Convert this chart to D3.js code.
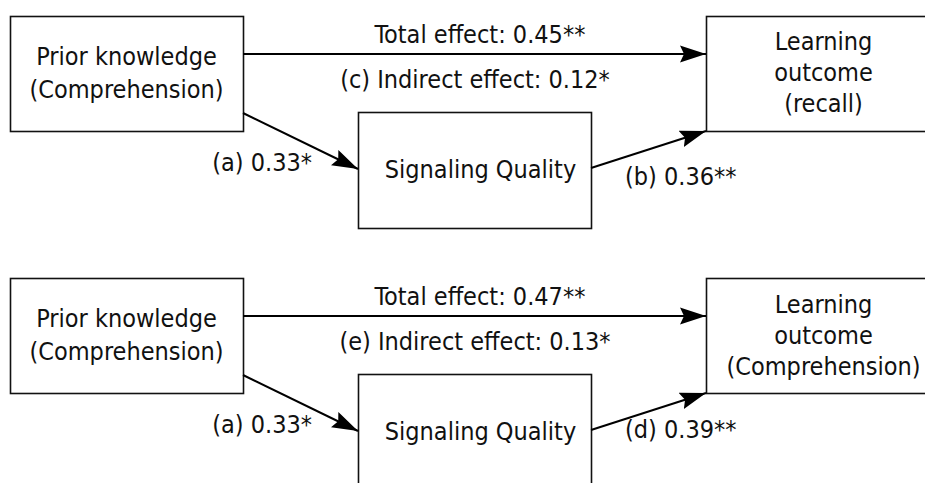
<!DOCTYPE html>
<html>
<head>
<meta charset="utf-8">
<script src="https://cdn.jsdelivr.net/npm/d3@7"></script>
<style>
  html, body { margin: 0; padding: 0; background: #fff; }
  svg text { font-family: "DejaVu Sans Condensed", "DejaVu Sans", sans-serif; font-stretch: condensed; font-size: 25px; fill: #111; }
</style>
</head>
<body>
<div id="chart"></div>
<script>
// data: one panel per learning outcome
const panels = ["recall", "comprehension"];
const predictorLines = ["Prior knowledge", "(Comprehension)"];
const mediatorLabel = "Signaling Quality";
const outcomeLines = [["Learning", "outcome", "(recall)"], ["Learning", "outcome", "(Comprehension)"]];
const pathALetter = ["a", "a"];
const pathAValue = ["0.33*", "0.33*"];
const pathBLetter = ["b", "d"];
const pathBValue = ["0.36**", "0.39**"];
const totalValue = ["0.45**", "0.47**"];
const indirectLetter = ["c", "e"];
const indirectValue = ["0.12*", "0.13*"];

const width = 925, height = 483;

const svg = d3.select("#chart").append("svg")
  .attr("width", width)
  .attr("height", height);

// arrow head
svg.append("defs").append("marker")
  .attr("id", "head")
  .attr("markerUnits", "userSpaceOnUse")
  .attr("viewBox", "0 0 26 18")
  .attr("markerWidth", 26)
  .attr("markerHeight", 18)
  .attr("refX", 26)
  .attr("refY", 9)
  .attr("orient", "auto")
  .append("path")
  .attr("d", "M0,0.5 L26,9 L0,17.5 L4,9 Z")
  .attr("fill", "#000");

// panel offsets
const panelY = d3.scalePoint().domain(panels).range([0, 262]);

// layout of boxes within a panel
const boxW = 233, boxH = 115;
const pred = {x: 10, y: 16};
const med = {x: 358, y: 112};
const out = {x: 706, y: 16};

panels.forEach((p, i) => {
  const g = svg.append("g").attr("transform", `translate(0,${panelY(p)})`);

  const boxes = [pred, med, out];
  g.selectAll("rect.box").data(boxes).enter()
    .append("rect")
    .attr("class", "box")
    .attr("x", d => d.x + 0.5)
    .attr("y", d => d.y + 0.5)
    .attr("width", boxW)
    .attr("height", d => d === med ? 116 : boxH)
    .attr("fill", "#fff")
    .attr("stroke", "#111")
    .attr("stroke-width", 1.6);

  // predictor text
  g.append("text")
    .attr("text-anchor", "middle")
    .selectAll("tspan").data(predictorLines).enter()
    .append("tspan")
    .attr("x", pred.x + boxW / 2)
    .attr("y", (d, j) => 65 + j * 33)
    .text(d => d);

  // mediator text
  g.append("text")
    .attr("text-anchor", "middle")
    .attr("x", med.x + boxW / 2 + 6)
    .attr("y", 178)
    .text(mediatorLabel);

  // outcome text
  const outBase = i === 0 ? 50 : 51;
  g.append("text")
    .attr("text-anchor", "middle")
    .selectAll("tspan").data(outcomeLines[i]).enter()
    .append("tspan")
    .attr("x", out.x + boxW / 2 + 1)
    .attr("y", (d, j) => outBase + j * 31)
    .text(d => d);

  // arrows
  const arrows = [
    [[pred.x + boxW, 54], [out.x, 54]],
    [[pred.x + boxW, 113], [med.x, 169]],
    [[med.x + boxW, 168], [out.x, out.y + boxH]]
  ];
  g.selectAll("path.arrow").data(arrows).enter()
    .append("path")
    .attr("class", "arrow")
    .attr("d", d3.line())
    .attr("fill", "none")
    .attr("stroke", "#000")
    .attr("stroke-width", 2)
    .attr("marker-end", "url(#head)");

  // labels
  g.append("text")
    .attr("text-anchor", "middle")
    .attr("x", 480).attr("y", 43)
    .text(`Total effect: ${totalValue[i]}`);
  g.append("text")
    .attr("text-anchor", "middle")
    .attr("x", 475).attr("y", 88)
    .text(`(${indirectLetter[i]}) Indirect effect: ${indirectValue[i]}`);
  g.append("text")
    .attr("text-anchor", "end")
    .attr("x", 312).attr("y", 171)
    .text(`(${pathALetter[i]}) ${pathAValue[i]}`);
  g.append("text")
    .attr("text-anchor", "start")
    .attr("x", 625).attr("y", i === 0 ? 185 : 176)
    .text(`(${pathBLetter[i]}) ${pathBValue[i]}`);
});
</script>
</body>
</html>
